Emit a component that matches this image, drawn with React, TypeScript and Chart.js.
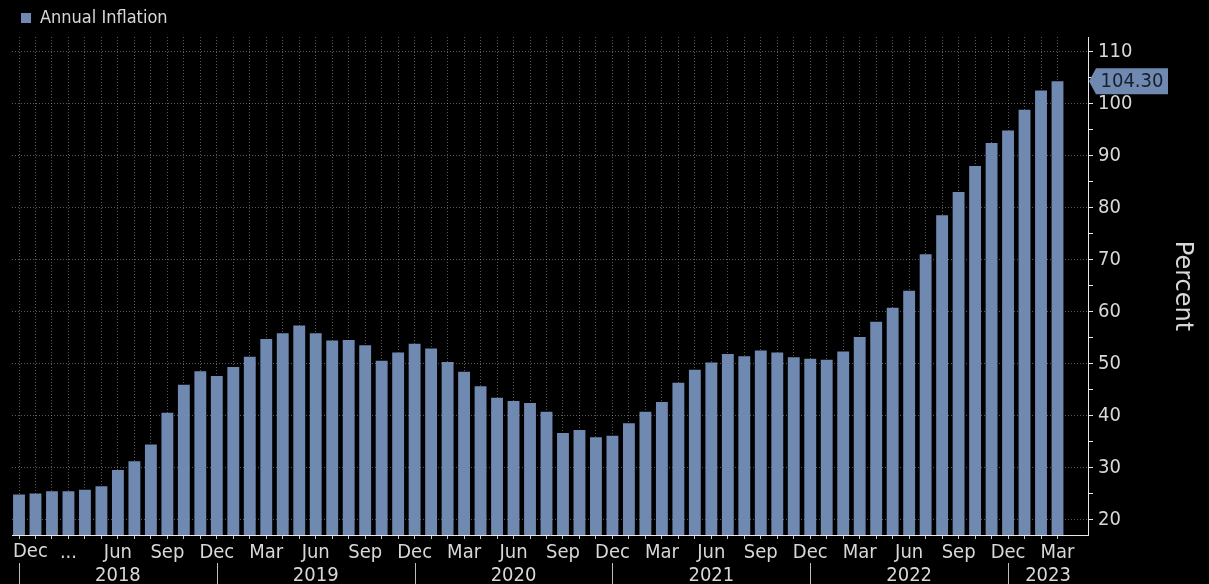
import React, { useEffect, useRef } from 'react';
import { Chart, registerables } from 'chart.js';

Chart.register(...registerables);

// ---- Data ----
const categories: string[] = [
  'Dec 2017',
  'Jan 2018', 'Feb 2018', 'Mar 2018', 'Apr 2018', 'May 2018', 'Jun 2018',
  'Jul 2018', 'Aug 2018', 'Sep 2018', 'Oct 2018', 'Nov 2018', 'Dec 2018',
  'Jan 2019', 'Feb 2019', 'Mar 2019', 'Apr 2019', 'May 2019', 'Jun 2019',
  'Jul 2019', 'Aug 2019', 'Sep 2019', 'Oct 2019', 'Nov 2019', 'Dec 2019',
  'Jan 2020', 'Feb 2020', 'Mar 2020', 'Apr 2020', 'May 2020', 'Jun 2020',
  'Jul 2020', 'Aug 2020', 'Sep 2020', 'Oct 2020', 'Nov 2020', 'Dec 2020',
  'Jan 2021', 'Feb 2021', 'Mar 2021', 'Apr 2021', 'May 2021', 'Jun 2021',
  'Jul 2021', 'Aug 2021', 'Sep 2021', 'Oct 2021', 'Nov 2021', 'Dec 2021',
  'Jan 2022', 'Feb 2022', 'Mar 2022', 'Apr 2022', 'May 2022', 'Jun 2022',
  'Jul 2022', 'Aug 2022', 'Sep 2022', 'Oct 2022', 'Nov 2022', 'Dec 2022',
  'Jan 2023', 'Feb 2023', 'Mar 2023',
];

const annualInflation: number[] = [
  24.8,
  25.0, 25.4, 25.4, 25.7, 26.4, 29.5, 31.2, 34.4, 40.5, 45.9, 48.5, 47.6,
  49.3, 51.3, 54.7, 55.8, 57.3, 55.8, 54.4, 54.5, 53.5, 50.5, 52.1, 53.8,
  52.9, 50.3, 48.4, 45.6, 43.4, 42.8, 42.4, 40.7, 36.6, 37.2, 35.8, 36.1,
  38.5, 40.7, 42.6, 46.3, 48.8, 50.2, 51.8, 51.4, 52.5, 52.1, 51.2, 50.9,
  50.7, 52.3, 55.1, 58.0, 60.7, 64.0, 71.0, 78.5, 83.0, 88.0, 92.4, 94.8,
  98.8, 102.5, 104.3,
];

// quarterly tick labels (every 3rd month, starting Dec 2017)
const quarterTickLabels: string[] = [
  'Dec', '...', 'Jun', 'Sep',
  'Dec', 'Mar', 'Jun', 'Sep',
  'Dec', 'Mar', 'Jun', 'Sep',
  'Dec', 'Mar', 'Jun', 'Sep',
  'Dec', 'Mar', 'Jun', 'Sep',
  'Dec', 'Mar',
];

const years: string[] = ['2018', '2019', '2020', '2021', '2022', '2023'];

const yTickValues: number[] = [20, 25, 30, 35, 40, 45, 50, 55, 60, 65, 70, 75, 80, 85, 90, 95, 100, 105, 110];

// ---- Styles ----
const BAR = '#7089b0';
const TEXT = '#d8d8d8';
const GRID = 'rgba(180,180,180,0.5)';
const AXIS = '#e8e8e8';
const FONT = "'DejaVu Sans Condensed', 'DejaVu Sans', sans-serif";

const overlayPlugin = {
  id: 'overlay',
  afterDraw(chart: any) {
    const { ctx, chartArea, scales } = chart;
    const x = scales.x;
    const y = scales.y;
    ctx.save();

    // first month label, kept inside the plot's left edge
    ctx.fillStyle = TEXT;
    ctx.font = `20px ${FONT}`;
    ctx.textAlign = 'left';
    ctx.textBaseline = 'middle';
    ctx.fillText(quarterTickLabels[0], chartArea.left + 1, chartArea.bottom + 17);

    // year separators and labels
    const decIdx = categories
      .map((c, i) => (c.startsWith('Dec') ? i : -1))
      .filter((i) => i >= 0);
    ctx.strokeStyle = '#bdbdbd';
    ctx.lineWidth = 1;
    decIdx.forEach((i) => {
      const px = Math.round(x.getPixelForValue(i)) + 0.5;
      ctx.beginPath();
      ctx.moveTo(px, chartArea.bottom + 28);
      ctx.lineTo(px, chart.height);
      ctx.stroke();
    });
    ctx.textAlign = 'center';
    years.forEach((yr, k) => {
      const a = x.getPixelForValue(decIdx[k]);
      const b = k + 1 < decIdx.length ? x.getPixelForValue(decIdx[k + 1]) : chartArea.right;
      ctx.fillText(yr, (a + b) / 2, chartArea.bottom + 41);
    });

    // last value box
    const last = annualInflation[annualInflation.length - 1];
    const py = y.getPixelForValue(last);
    const left = chartArea.right + 4;
    const w = 76;
    const h = 26;
    ctx.fillStyle = BAR;
    ctx.beginPath();
    ctx.moveTo(chartArea.right + 1, py);
    ctx.lineTo(left + 4, py - h / 2);
    ctx.lineTo(left + w, py - h / 2);
    ctx.lineTo(left + w, py + h / 2);
    ctx.lineTo(left + 4, py + h / 2);
    ctx.closePath();
    ctx.fill();
    ctx.fillStyle = '#17202e';
    ctx.font = `20px ${FONT}`;
    ctx.textAlign = 'center';
    ctx.textBaseline = 'middle';
    ctx.fillText(last.toFixed(2), left + 4 + (w - 4) / 2, py + 1);

    ctx.restore();
  },
};

export default function App() {
  const canvasRef = useRef<HTMLCanvasElement | null>(null);

  useEffect(() => {
    if (!canvasRef.current) return;
    const chart = new Chart(canvasRef.current, {
      type: 'bar',
      data: {
        datasets: [
          {
            label: 'Annual Inflation',
            data: annualInflation.map((v, i) => ({ x: i, y: v })),
            backgroundColor: BAR,
            borderWidth: 0,
            barPercentage: 0.72,
            categoryPercentage: 1,
          },
        ],
      },
      options: {
        responsive: false,
        animation: false,
        layout: { padding: { left: 12, top: 0, right: 0, bottom: 0 } },
        plugins: {
          legend: {
            display: true,
            position: 'top',
            align: 'start',
            labels: {
              boxWidth: 10,
              boxHeight: 10,
              padding: 9,
              color: TEXT,
              font: { family: FONT, size: 18 },
            },
          },
          tooltip: { enabled: false },
        },
        scales: {
          x: {
            type: 'linear',
            position: 'bottom',
            min: -0.425,
            max: 64.85,
            bounds: 'data',
            offset: false,
            afterBuildTicks: (s: any) => {
              s.ticks = categories.map((_, i) => ({ value: i }));
            },
            afterFit: (s: any) => {
              s.height = 49;
              s.paddingLeft = 0;
              s.paddingRight = 0;
            },
            grid: {
              offset: false,
              color: GRID,
              lineWidth: 1,
              drawTicks: true,
              tickLength: 4,
              tickColor: '#c8c8c8',
              tickWidth: 1,
            },
            border: { display: true, color: AXIS, width: 1, dash: [1, 2] },
            ticks: {
              autoSkip: false,
              maxRotation: 0,
              minRotation: 0,
              padding: 2,
              color: TEXT,
              font: { family: FONT, size: 20 },
              callback: (v: any) => {
                const i = Math.round(Number(v));
                // index 0 is drawn by the overlay so it is not clipped
                return i > 0 && i % 3 === 0 ? quarterTickLabels[i / 3] ?? '' : '';
              },
            },
          },
          y: {
            position: 'right',
            min: 17,
            max: 112.8,
            bounds: 'data',
            afterBuildTicks: (s: any) => {
              s.ticks = yTickValues.map((v) => ({ value: v }));
            },
            afterFit: (s: any) => {
              s.width = 121;
              s.paddingTop = 0;
              s.paddingBottom = 0;
            },
            grid: {
              color: (c: any) => (c.tick && c.tick.value % 10 === 0 ? GRID : 'rgba(0,0,0,0)'),
              tickLength: 5,
              tickColor: AXIS,
            },
            border: { display: true, color: AXIS, width: 1, dash: [1, 2] },
            ticks: {
              padding: 5,
              color: TEXT,
              font: { family: FONT, size: 20 },
              callback: (v: any) => (Number(v) % 10 === 0 ? String(v) : ''),
            },
            title: {
              display: true,
              text: 'Percent',
              color: TEXT,
              font: { family: 'DejaVu Sans', size: 24 },
              padding: { top: 12, bottom: 0 },
            },
          },
        },
      } as any,
      plugins: [overlayPlugin],
    });
    return () => chart.destroy();
  }, []);

  return (
    <div
      style={{
        position: 'fixed',
        left: 0,
        top: 0,
        width: 1209,
        height: 584,
        background: '#000',
        overflow: 'hidden',
      }}
    >
      <canvas ref={canvasRef} width={1209} height={584} style={{ display: 'block' }} />
    </div>
  );
}
